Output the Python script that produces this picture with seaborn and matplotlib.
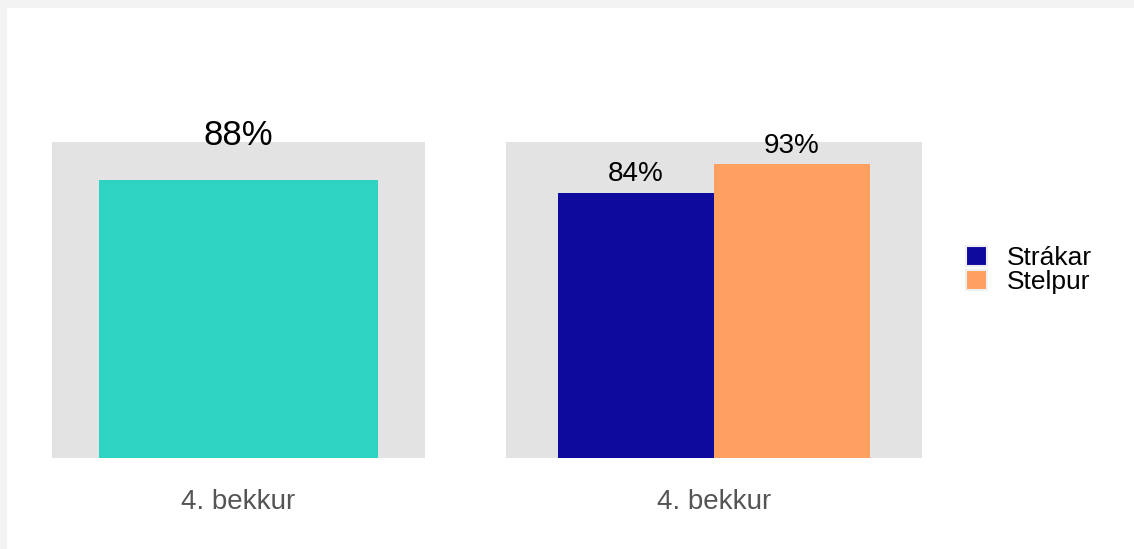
import pandas as pd
import matplotlib.pyplot as plt
import matplotlib.patches as mpatches
import seaborn as sns

# data
bekkur = ["4. bekkur"]
heild = [0.88]
kyn = ["Strákar", "Stelpur"]
kyn_gildi = [0.84, 0.93]

litir = {"Strákar": "#0f0a9e", "Stelpur": "#ffa060"}
heild_litur = "#2ed3c1"

sns.set_style("white")
plt.rcParams["font.family"] = ["Liberation Sans", "DejaVu Sans"]

fig = plt.figure(figsize=(11.34, 5.49), dpi=100, facecolor="#f3f3f3")
fig.add_artist(mpatches.Rectangle((7 / 1134, 0), 1, 1 - 8 / 549,
                                  transform=fig.transFigure, facecolor="white",
                                  edgecolor="none", zorder=-1))

ax1 = fig.add_axes([52 / 1134, 91 / 549, 373 / 1134, 316 / 549])
ax2 = fig.add_axes([506 / 1134, 91 / 549, 416 / 1134, 316 / 549])

# --- left: total ---
df1 = pd.DataFrame({"bekkur": bekkur, "hlutfall": heild})
sns.barplot(data=df1, x="bekkur", y="hlutfall", color=heild_litur,
            width=0.75, saturation=1, linewidth=0, ax=ax1)
ax1.bar_label(ax1.containers[0], labels=[f"{v:.0%}" for v in heild],
              padding=20, fontsize=25, color="black")

# --- right: by gender ---
df2 = pd.DataFrame({"bekkur": bekkur * len(kyn), "kyn": kyn, "hlutfall": kyn_gildi})
sns.barplot(data=df2, x="bekkur", y="hlutfall", hue="kyn", hue_order=kyn,
            palette=litir, width=0.75, saturation=1, linewidth=0, ax=ax2, legend=False)
for c, v in zip(ax2.containers, kyn_gildi):
    ax2.bar_label(c, labels=[f"{v:.0%}"], padding=4, fontsize=20, color="black")

for ax in (ax1, ax2):
    ax.set_facecolor("#e3e3e3")
    ax.set_ylim(0, 1)
    ax.set_xlim(-0.5, 0.5)
    ax.set_xlabel("")
    ax.set_ylabel("")
    ax.set_yticks([])
    ax.tick_params(axis="x", length=0, pad=22, labelsize=20, labelcolor="#555555")
    for s in ax.spines.values():
        s.set_visible(False)

handles = [mpatches.Patch(facecolor=litir[k], edgecolor="#f0f0f0", linewidth=1.5)
           for k in kyn]
fig.legend(handles, kyn, loc="center left", bbox_to_anchor=(966 / 1134, 1 - 270 / 549),
           frameon=False, fontsize=19, handlelength=0.78, handleheight=0.78,
           handletextpad=0.75, labelspacing=0.0, borderaxespad=0, borderpad=0,
           labelcolor="black")

fig.savefig("out.png", dpi=100, facecolor=fig.get_facecolor())
